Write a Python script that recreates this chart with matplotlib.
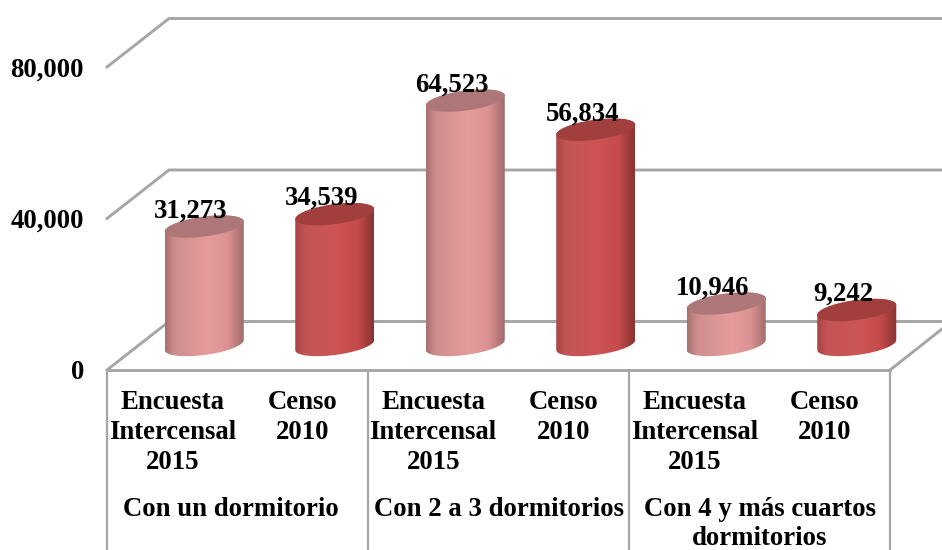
#!/usr/bin/env python
# 3-D style cylinder chart: viviendas por numero de dormitorios
import numpy as np
import matplotlib
matplotlib.use('Agg')
import matplotlib.pyplot as plt
from matplotlib.patches import Polygon

plt.rcParams['font.family'] = ['Liberation Serif', 'DejaVu Serif']
plt.rcParams['font.weight'] = 'bold'

series_labels = ['Encuesta\nIntercensal\n2015', 'Censo\n2010'] * 3
group_labels = ['Con un dormitorio', 'Con 2 a 3 dormitorios',
                'Con 4 y más cuartos\ndormitorios']
values = [31273, 34539, 64523, 56834, 10946, 9242]
y_ticks = [0, 40000, 80000]

PINK = ([0.66, 0.44, 0.44], [0.90, 0.61, 0.61], [0.64, 0.42, 0.42], '#AE7777')
RED = ([0.66, 0.27, 0.27], [0.81, 0.33, 0.33], [0.54, 0.20, 0.20], '#A03F3D')

# scale: one category slot and one value unit in pixels
SLOT = 130.5
PER_UNIT = 151.5 / 40000
W, H = 942, 550
X0, Y0 = 107, 370
FS = 19.3

dx = 62 / SLOT
dy = 48.5 / PER_UNIT
shift_x = 32 / SLOT
shift_y = 25 / PER_UNIT
a = 39.5 / SLOT
b = 10 / PER_UNIT
k = 5 / PER_UNIT

fig = plt.figure(figsize=(W / 100, H / 100), dpi=100)
ax = fig.add_axes([0, 0, 1, 1])
ax.axis('off')
grey = '#A6A6A6'
xlim = (-X0 / SLOT, (W - X0) / SLOT)
ylim = (-(H - Y0) / PER_UNIT, Y0 / PER_UNIT)

# wall gridlines and floor
for t in y_ticks:
    ax.plot([0, dx, xlim[1]], [t, t + dy, t + dy], color=grey, lw=2.1,
            solid_joinstyle='miter', zorder=1)
ax.plot([0, 6], [0, 0], color=grey, lw=2.1, zorder=1)
ax.plot([6, xlim[1]], [0, 41 / PER_UNIT], color=grey, lw=2.1, zorder=1)
ax.vlines([0, 2, 4, 6], ylim[0], 0, color=grey, lw=1.6, zorder=1)

# cylinders
th_low = np.linspace(np.pi, 2 * np.pi, 60)
th_upp = th_low - np.pi
th_all = np.linspace(0, 2 * np.pi, 120)
for i, v in enumerate(values):
    cx = i + 0.5 + shift_x
    base = shift_y
    top = base + v
    left, mid, right, cap = PINK if i % 2 == 0 else RED

    xs = np.r_[cx + a * np.cos(th_low), cx + a * np.cos(th_upp)]
    ys = np.r_[base + b * np.sin(th_low) + k * np.cos(th_low),
               top + b * np.sin(th_upp) + k * np.cos(th_upp)]
    clip = Polygon(np.column_stack([xs, ys]), closed=True,
                   transform=ax.transData, fc='none', ec='none')
    ax.add_patch(clip)

    pos = np.array([0, 0.12, 0.55, 0.8, 1])
    u = np.linspace(0, 1, 80)
    grad = np.column_stack([
        np.interp(u, pos, [left[c], (left[c] + mid[c]) / 2 + 0.03, mid[c], mid[c] - 0.04, right[c]])
        for c in range(3)])[None, :, :]
    im = ax.imshow(grad, extent=(cx - a, cx + a, base - 3 * b, top + 3 * b),
                   aspect='auto', interpolation='bicubic', zorder=3)
    im.set_clip_path(clip)

    cap_x = cx + a * np.cos(th_all)
    cap_y = top + b * np.sin(th_all) + k * np.cos(th_all)
    ax.fill(cap_x, cap_y, color=cap, lw=0, zorder=4)

    ax.annotate(f'{v:,}', (cx, top), xytext=(-9.7, 11.2), textcoords='offset points',
                ha='center', va='center', fontsize=FS, fontweight='bold',
                color='black', zorder=5)

ax.set_xlim(*xlim)
ax.set_ylim(*ylim)

# value axis labels
for t in y_ticks:
    ax.annotate(f'{t:,}', (0, t), xytext=(-16.5, -2), textcoords='offset points',
                ha='right', va='center', fontsize=FS, fontweight='bold')

# category labels
trans = ax.get_xaxis_transform()
for i, lab in enumerate(series_labels):
    ax.text(i + 0.5, 1 - 390 / H, lab, transform=trans, ha='center', va='top',
            fontsize=FS, fontweight='bold', linespacing=1.27)
for j, (pos, lab) in enumerate(zip([0.95, 3.0, 5.0], group_labels)):
    ax.text(pos, 1 - 497 / H, lab, transform=trans, ha='center', va='top',
            fontsize=FS, fontweight='bold', linespacing=1.2)

fig.savefig('out.png', dpi=100)
